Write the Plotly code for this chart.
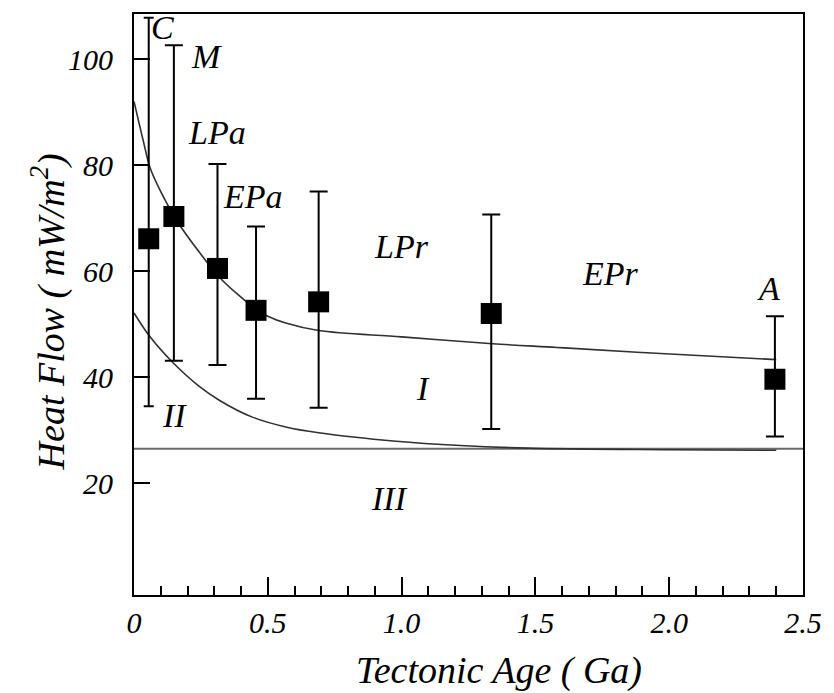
import plotly.graph_objects as go

# ---- data ----
provinces = ["C", "M", "LPa", "EPa", "LPr", "EPr", "A"]
age = [0.055, 0.149, 0.312, 0.456, 0.69, 1.335, 2.395]
heat = [66.1, 70.3, 60.5, 52.6, 54.2, 52.0, 39.6]
err_hi = [107.8, 102.6, 80.2, 68.4, 75.0, 70.7, 51.5]
err_lo = [34.5, 43.1, 42.3, 35.9, 34.2, 30.2, 28.8]

upper_x = [0, 0.035, 0.06, 0.1, 0.16, 0.245, 0.32, 0.39, 0.456, 0.5, 0.567, 0.69, 1.0, 1.34, 1.58, 1.88, 2.4]
upper_y = [92, 84.5, 79.5, 75, 69.5, 63.5, 58.8, 55.5, 52.8, 51.5, 50.2, 48.8, 47.6, 46.3, 45.6, 44.7, 43.3]

lower_x = [0, 0.06, 0.146, 0.245, 0.32, 0.44, 0.567, 0.69, 0.98, 1.22, 1.47, 2.0, 2.4]
lower_y = [52.1, 47.6, 42.7, 38.2, 35.6, 32.5, 30.6, 29.5, 27.9, 27.1, 26.6, 26.3, 26.2]

base_x = [0, 2.5]
base_y = [26.5, 26.5]

label_text = ["C", "M", "LPa", "EPa", "LPr", "EPr", "A", "I", "II", "III"]
label_x = [0.108, 0.27, 0.31, 0.446, 1.0, 1.78, 2.37, 1.08, 0.15, 0.955]
label_y = [106, 100.4, 86.1, 74, 64.7, 59.6, 56.8, 37.8, 32.7, 17.1]

x_tickvals = [0, 0.5, 1.0, 1.5, 2.0, 2.5]
x_ticktext = ["0", "0.5", "1.0", "1.5", "2.0", "2.5"]
y_tickvals = [20, 40, 60, 80, 100]

FONT = "Liberation Serif"

fig = go.Figure()

fig.add_trace(go.Scatter(x=base_x, y=base_y, mode="lines",
                         line=dict(color="#6a6a6a", width=2), hoverinfo="skip"))
fig.add_trace(go.Scatter(x=lower_x, y=lower_y, mode="lines", line_shape="spline",
                         line=dict(color="#303030", width=1.6), hoverinfo="skip"))
fig.add_trace(go.Scatter(x=upper_x, y=upper_y, mode="lines", line_shape="spline",
                         line=dict(color="#303030", width=1.6), hoverinfo="skip"))

# first point (C) has shorter caps
for sl, w in [(slice(0, 1), 5), (slice(1, None), 9)]:
    xs = age[sl]
    ys = heat[sl]
    plus = [h - v for h, v in zip(err_hi[sl], ys)]
    minus = [v - l for l, v in zip(err_lo[sl], ys)]
    fig.add_trace(go.Scatter(
        x=xs, y=ys, mode="markers",
        marker=dict(symbol="square", size=21, color="black"),
        error_y=dict(type="data", symmetric=False, array=plus, arrayminus=minus,
                     color="black", thickness=2, width=w),
    ))

for t, x, y in zip(label_text, label_x, label_y):
    fig.add_annotation(x=x, y=y, text=t, showarrow=False,
                       font=dict(family=FONT, size=34, color="black", style="italic"))

fig.add_annotation(xref="paper", yref="paper", x=0.545, y=-0.13, text="Tectonic Age ( Ga)",
                   showarrow=False, xanchor="center", yanchor="middle",
                   font=dict(family=FONT, size=38, color="black", style="italic"))
fig.add_annotation(xref="paper", yref="paper", x=-0.128, y=0.487,
                   text="Heat Flow ( mW/m<sup>2</sup>)", textangle=-90,
                   showarrow=False, xanchor="center", yanchor="middle",
                   font=dict(family=FONT, size=38, color="black", style="italic"))

fig.update_layout(
    width=834, height=693,
    margin=dict(l=134, r=26, t=12, b=98),
    paper_bgcolor="white", plot_bgcolor="white",
    showlegend=False,
    xaxis=dict(range=[0, 2.5], tickvals=x_tickvals, ticktext=x_ticktext,
               ticks="inside", ticklen=18, tickwidth=2, tickcolor="black",
               minor=dict(ticks="inside", ticklen=9, tickwidth=2, tickcolor="black", dtick=0.1, showgrid=False),
               showline=True, linecolor="black", linewidth=2, mirror=True,
               showgrid=False, zeroline=False,
               tickfont=dict(family=FONT, size=30, color="black", style="italic")),
    yaxis=dict(range=[-1.1, 108.5], tickvals=y_tickvals,
               ticks="inside", ticklen=16, tickwidth=2, tickcolor="black",
               showline=True, linecolor="black", linewidth=2, mirror=True,
               showgrid=False, zeroline=False, ticklabelstandoff=13,
               tickfont=dict(family=FONT, size=30, color="black", style="italic")),
)

fig.write_html("out.html")
